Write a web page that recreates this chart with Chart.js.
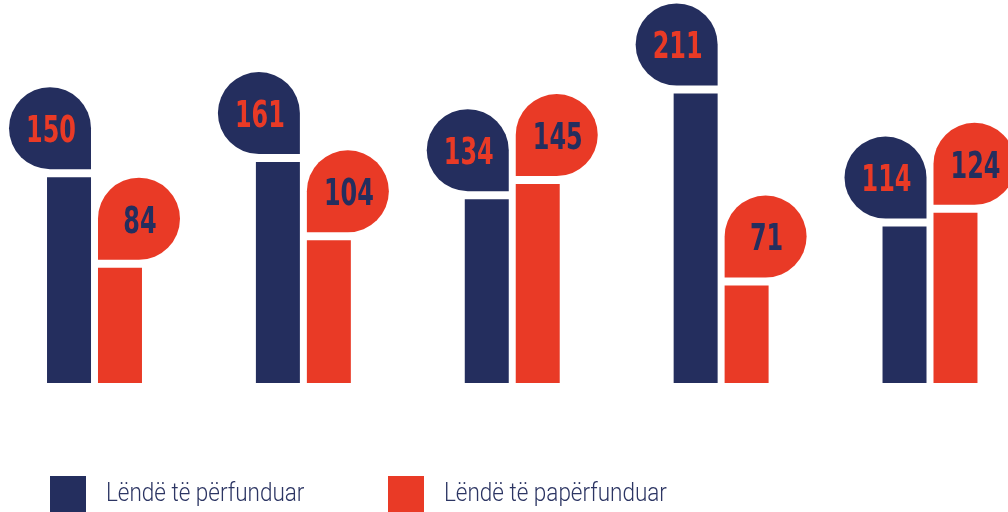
<!DOCTYPE html>
<html>
<head>
<meta charset="utf-8">
<script src="https://cdn.jsdelivr.net/npm/chart.js@4"></script>
<style>
  body { margin: 0; background: #fff; }
  #wrap { position: relative; width: 1008px; height: 512px; overflow: hidden; }
  .leg { position: absolute; top: 476px; height: 40px; display: flex; align-items: flex-start; }
  .leg .box { width: 36px; height: 40px; display: inline-block; }
  .leg .txt { margin-left: 20px; margin-top: 2px; font-family: Roboto, sans-serif; font-weight: 300;
    font-size: 25px; line-height: 30px; color: #2c3563; white-space: nowrap; transform-origin: left top; transform: scaleX(0.9); }
</style>
</head>
<body>
<div id="wrap">
  <canvas id="myChart" width="1008" height="512"></canvas>
  <div class="leg" style="left:50px"><span class="box" style="background:#242e5e"></span><span class="txt">Lëndë të përfunduar</span></div>
  <div class="leg" style="left:388px"><span class="box" style="background:#e93a26"></span><span class="txt">Lëndë të papërfunduar</span></div>
</div>
<script>
const kategorite = ["1", "2", "3", "4", "5"];
const perfunduar = [150, 161, 134, 211, 114];
const paperfunduar = [84, 104, 145, 71, 124];
const seriaEmrat = ["Lëndë të përfunduar", "Lëndë të papërfunduar"];

const blu = "#242e5e";
const kuq = "#e93a26";

// flluskat me numra mbi shtylla
const flluskat = {
  id: "flluskat",
  afterDatasetsDraw(chart) {
    const ctx = chart.ctx;
    const size = 82, r = 41, gap = 8;
    chart.data.datasets.forEach((ds, di) => {
      const meta = chart.getDatasetMeta(di);
      meta.data.forEach((bar, i) => {
        const half = bar.width / 2;
        const bottom = bar.y - gap;
        let left, radii;
        if (di === 0) {
          left = bar.x + half - size;
          radii = [r, r, 0, r];
        } else {
          left = bar.x - half;
          radii = [r, r, r, 0];
        }
        ctx.save();
        ctx.fillStyle = di === 0 ? blu : kuq;
        ctx.beginPath();
        ctx.roundRect(left, bottom - size, size, size, radii);
        ctx.fill();
        ctx.fillStyle = di === 0 ? kuq : blu;
        ctx.textAlign = "center";
        ctx.textBaseline = "middle";
        const cx = left + size / 2 + 1;
        const cy = bottom - size / 2 + 4;
        ctx.translate(cx, cy);
        ctx.scale(0.7, 1);
        ctx.font = 'bold 38px "DejaVu Sans Condensed", "DejaVu Sans", sans-serif';
        ctx.fillText(String(ds.data[i]), 0, 0);
        ctx.restore();
      });
    });
  }
};

const ctx = document.getElementById("myChart");
const myChart = new Chart(ctx, {
  type: "bar",
  data: {
    labels: kategorite,
    datasets: [
      { label: seriaEmrat[0], data: perfunduar, backgroundColor: blu, clip: false },
      { label: seriaEmrat[1], data: paperfunduar, backgroundColor: kuq, clip: false },
    ],
  },
  options: {
    responsive: false,
    animation: false,
    categoryPercentage: 0.488,
    barPercentage: 0.863,
    layout: { padding: { top: 0, bottom: 129, left: 94.5, right: 78 } },
    scales: {
      x: { display: false, offset: false },
      y: { display: false, min: 0, max: 279.15 },
    },
    plugins: {
      legend: { display: false },
      tooltip: { enabled: false },
    },
  },
  plugins: [flluskat],
});
</script>
</body>
</html>
